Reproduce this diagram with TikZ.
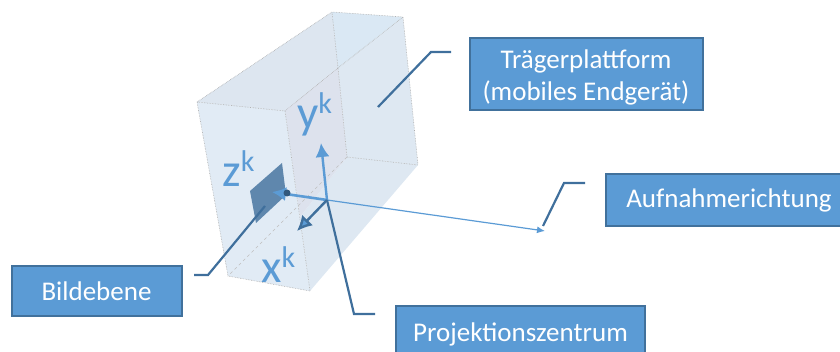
\documentclass[tikz,border=0pt]{standalone}
\usepackage{fontspec}
\setmainfont{Carlito}
\usetikzlibrary{arrows.meta}
\definecolor{boxfill}{HTML}{5B9BD5}
\definecolor{boxline}{HTML}{41719C}
\definecolor{leader}{HTML}{3F6F9C}
\definecolor{facelight}{HTML}{E1EBF5}
\definecolor{facetop}{HTML}{DDE6F0}
\definecolor{faceinner}{HTML}{DAE8F4}
\definecolor{faceright}{HTML}{DEE8F2}
\definecolor{faceback}{HTML}{DDE2ED}
\definecolor{plane}{HTML}{5F87AD}
\newcommand{\axisk}[1]{#1\raisebox{15pt}{\fontsize{30}{30}\selectfont k}}
\tikzset{
  labelbox/.style={draw=boxline,fill=boxfill,line width=2pt,text=white,font=\fontsize{27}{32}\selectfont,align=center,inner sep=0pt},
  leaderline/.style={draw=leader,line width=2.2pt},
  boxedge/.style={draw=gray!65,line width=.6pt,densely dotted},
  axisarrow/.style={draw=boxfill,line width=#1,-{Latex[length=14pt,width=14pt]}},
  axisname/.style={text=boxfill,font=\fontsize{47}{50}\selectfont,inner sep=0pt,anchor=base west}
}
\begin{document}
\begin{tikzpicture}[x=1pt,y=-1pt]
\useasboundingbox (0,0) rectangle (840,352);
% cuboid corners
\coordinate (tl) at (197,102);
\coordinate (tf) at (285,111);
\coordinate (bk) at (332,12);
\coordinate (tr) at (403,17);
\coordinate (in) at (338,68);
\coordinate (il) at (347,157);
\coordinate (br) at (418,165);
\coordinate (bf) at (310,291);
\coordinate (bl) at (228,276);
% faces
\fill[facetop] (tl)--(bk)--(in)--(tf)--cycle;
\fill[faceinner] (bk)--(tr)--(in)--cycle;
\fill[faceright] (tr)--(br)--(il)--(in)--cycle;
\fill[faceright] (il)--(br)--(bf)--(300,217)--cycle;
\fill[faceback] (tf)--(in)--(il)--(300,217)--cycle;
\fill[facelight] (tl)--(tf)--(bf)--(bl)--cycle;
% edges
\draw[boxedge] (tl)--(bk)--(tr)--(br) (bf)--(bl)--(tl)--(tf)--(bf);
\draw[boxedge] (tf)--(in)--(bk) (in)--(tr) (in)--(il)--(br);
\draw[boxedge,dashed,gray!50] (il)--(bl);
% image plane
\fill[plane] (250,191)--(282,163)--(286,195)--(256,223)--cycle;
% axis names
\node[axisname] (ylabel) at (297,129) {\axisk{y}};
\node[axisname] (zlabel) at (222,187) {\axisk{z}};
\node[axisname] (xlabel) at (261,283) {\axisk{x}};
% labelled boxes
\node[labelbox,minimum width=233pt,minimum height=72pt] (traeger) at (586,74.5) {\rule{0pt}{25pt}Trägerplattform\\(mobiles Endgerät)};
\node[labelbox,minimum width=240pt,minimum height=52pt,anchor=west] (aufnahme) at (605,200) {\hspace*{6pt}Aufnahmerichtung};
\node[labelbox,minimum width=170pt,minimum height=50pt] (bild) at (96.5,291) {Bildebene};
\node[labelbox,minimum width=249pt,minimum height=56pt,anchor=north west] (proj) at (395,305) {Projektionszentrum};
% axes
\coordinate (origin) at (327,200);
\coordinate (yend) at (321,143);
\coordinate (zend) at (272,192);
\coordinate (xend) at (297,231);
\coordinate (dirend) at (545,231);
\draw[axisarrow=2.4pt] (origin)--(yend);
\draw[axisarrow=2.6pt] (origin)--(zend);
\fill[leader!80!black] (287,193) circle (3.5pt);
\draw[draw=leader,line width=2.4pt,-{Latex[length=15pt,width=15pt,fill=boxfill]}] (origin)--(xend);
\draw[draw=boxfill,line width=1.2pt,-{Latex[length=8pt,width=7pt]}] (origin)--(dirend);
% leaders
\coordinate (a1) at (378,107); \coordinate (a2) at (431,52); \coordinate (a3) at (451,52);
\coordinate (b1) at (543,226); \coordinate (b2) at (564,183); \coordinate (b3) at (585,183);
\coordinate (c1) at (265,206); \coordinate (c2) at (208,275); \coordinate (c3) at (194,275);
\coordinate (d1) at (327,200); \coordinate (d2) at (354,314); \coordinate (d3) at (375,314);
\draw[leaderline] (a1)--(a2)--(a3);
\draw[leaderline] (b1)--(b2)--(b3);
\draw[leaderline] (c1)--(c2)--(c3);
\draw[leaderline] (d1)--(d2)--(d3);
\end{tikzpicture}
\end{document}
